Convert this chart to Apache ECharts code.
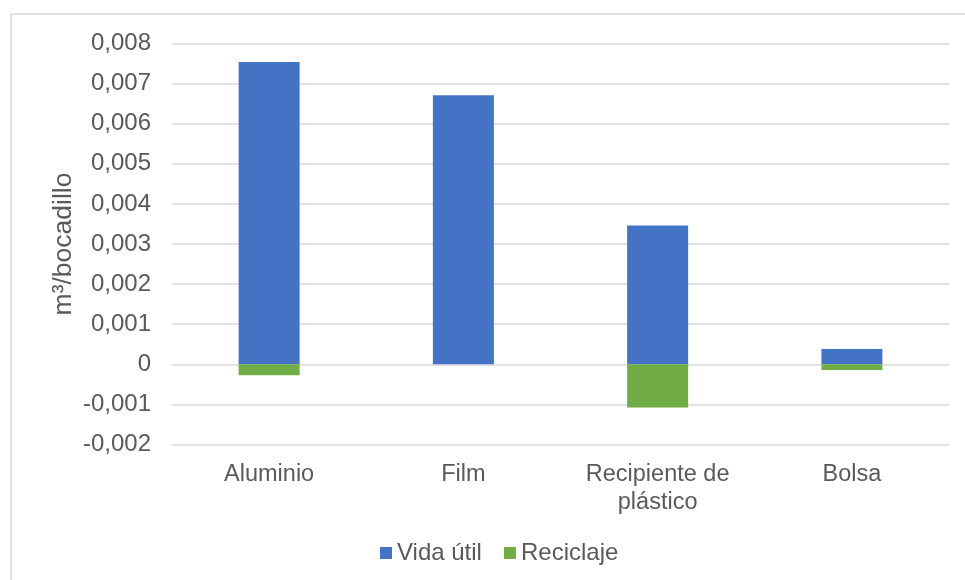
<!DOCTYPE html>
<html>
<head>
<meta charset="utf-8">
<script src="https://cdn.jsdelivr.net/npm/echarts@6/dist/echarts.min.js"></script>
<style>
  html, body { margin: 0; padding: 0; background: #fff; }
  #chart { width: 965px; height: 580px; }
</style>
</head>
<body>
<div id="chart"></div>
<script>
// Volumen por bocadillo según tipo de envoltorio
const categories = ['Aluminio', 'Film', 'Recipiente de\nplástico', 'Bolsa'];
const vidaUtil = [0.00754, 0.00671, 0.00346, 0.00038];
const reciclaje = [-0.00027, 0, -0.00108, -0.00014];
const seriesNames = ['Vida útil', 'Reciclaje'];

const FONT = '"Liberation Sans", Arial, sans-serif';
const TEXT = '#595959';

const chart = echarts.init(document.getElementById('chart'), null, { renderer: 'canvas' });

chart.setOption({
  backgroundColor: '#ffffff',
  animation: false,
  textStyle: { fontFamily: FONT },
  graphic: [{
    type: 'rect',
    shape: { x: 11, y: 14, width: 980, height: 600 },
    style: { fill: 'none', stroke: '#d9d9d9', lineWidth: 1.5 },
    z: -10
  }],
  grid: { left: 172, right: 16, top: 43.5, bottom: 135.5, containLabel: false },
  legend: {
    data: seriesNames,
    left: 375,
    top: 536,
    itemWidth: 12,
    itemHeight: 12,
    itemGap: 22,
    icon: 'rect',
    textStyle: { color: TEXT, fontSize: 24, fontFamily: FONT }
  },
  xAxis: {
    type: 'category',
    data: categories,
    axisLine: { show: false },
    axisTick: { show: false },
    axisLabel: { color: TEXT, fontSize: 23.5, fontFamily: FONT, margin: 16, lineHeight: 28, interval: 0 }
  },
  yAxis: {
    type: 'value',
    min: -0.002,
    max: 0.008,
    interval: 0.001,
    name: 'm³/bocadillo',
    nameLocation: 'middle',
    nameGap: 95,
    nameMoveOverlap: false,
    nameRotate: 90,
    nameTextStyle: { color: TEXT, fontSize: 26.5, fontFamily: FONT },
    axisLine: { show: false },
    axisTick: { show: false },
    axisLabel: {
      color: TEXT, fontSize: 24, fontFamily: FONT, margin: 21,
      formatter: v => (Math.abs(v) < 1e-9 ? '0' : v.toFixed(3).replace('.', ','))
    },
    splitLine: { lineStyle: { color: '#d9d9d9', width: 1.5 } }
  },
  series: [
    {
      name: seriesNames[0],
      type: 'bar',
      stack: 'total',
      data: vidaUtil,
      barWidth: 61,
      itemStyle: { color: '#4472C4' }
    },
    {
      name: seriesNames[1],
      type: 'bar',
      stack: 'total',
      data: reciclaje,
      barWidth: 61,
      itemStyle: { color: '#70AD47' }
    }
  ]
});
</script>
</body>
</html>
